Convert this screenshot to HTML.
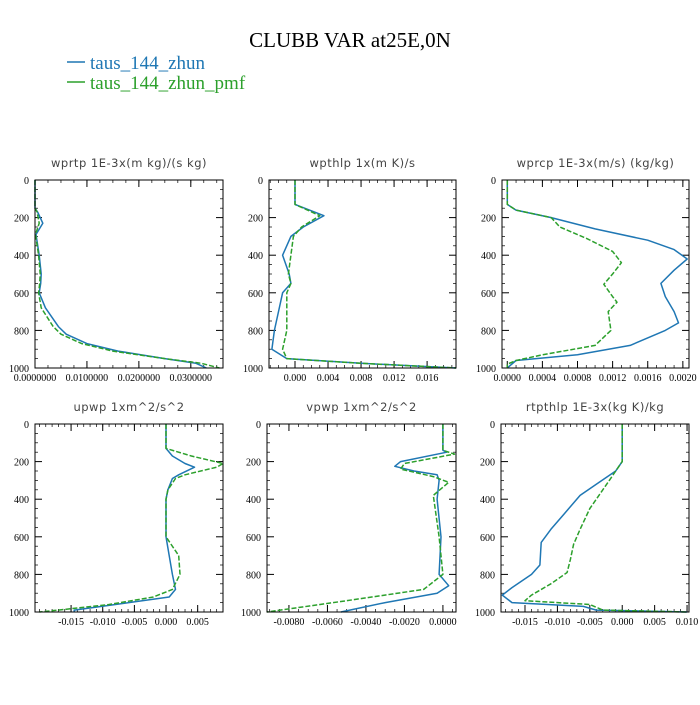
<!DOCTYPE html>
<html><head><meta charset="utf-8"><style>
body{margin:0;background:#fff;width:700px;height:700px;overflow:hidden}
svg text{font-family:"Liberation Serif",serif}
</style></head><body>
<svg id="c" width="700" height="700" xmlns="http://www.w3.org/2000/svg">
<text x="350" y="47" text-anchor="middle" font-size="21">CLUBB VAR at25E,0N</text>
<g>
<line x1="67" y1="62" x2="85" y2="62" stroke="#1f77b4" stroke-width="1.5"/>
<text x="90" y="69" font-size="19" fill="#1f77b4">taus_144_zhun</text>
<line x1="67" y1="82" x2="85" y2="82" stroke="#2ca02c" stroke-width="1.5"/>
<text x="90" y="89" font-size="19" fill="#2ca02c">taus_144_zhun_pmf</text>
</g>
</svg>
<script>
// pressure levels and series values per panel
const p1Lev=[0,150,170,230,290,400,500,550,600,680,780,820,870,910,950,975,1000];
const p1Blue=[0,0,0.0005,0.0015,0.0002,0.0008,0.0012,0.0011,0.0008,0.002,0.0045,0.006,0.01,0.016,0.025,0.031,0.033];
const p1Green=[0,0,0.0004,0.0008,0.0001,0.0007,0.0010,0.0009,0.0007,0.0012,0.0035,0.005,0.009,0.015,0.025,0.032,0.0355];
const p2Lev=[0,130,190,250,300,400,500,550,600,700,800,900,950,975,1000];
const p2Blue=[0,0,0.0035,0.001,-0.0005,-0.0015,-0.0007,-0.0005,-0.0015,-0.002,-0.0025,-0.0028,-0.001,0.008,0.0195];
const p2Green=[0,0,0.003,0.0008,-0.0002,-0.0005,-0.0008,-0.0005,-0.001,-0.001,-0.001,-0.0015,-0.001,0.008,0.0195];
const p3Lev=[0,130,160,200,260,320,370,420,480,550,620,700,760,800,880,930,960,1000];
const p3Blue=[0,0,0.0001,0.0005,0.001,0.0016,0.0019,0.00205,0.0019,0.00175,0.0018,0.0019,0.00195,0.0018,0.0014,0.0008,0.0001,0];
const p3Lev2=[0,130,160,200,250,310,380,440,500,555,620,650,700,800,880,930,960,980,1000];
const p3Green=[0,0,0.0001,0.0005,0.0006,0.0009,0.0012,0.0013,0.0012,0.0011,0.0012,0.00125,0.00115,0.00118,0.001,0.0004,0.0001,0,0];
const p4Lev=[0,130,170,210,230,270,290,350,400,600,700,800,880,920,960,990,1000];
const p4Blue=[0,0,0.001,0.003,0.0045,0.002,0.001,0.0003,0,0,0.0005,0.001,0.0015,0.0005,-0.008,-0.0145,-0.0145];
const p4Green=[0,0,0.004,0.009,0.008,0.003,0.0015,0.0003,0,0,0.002,0.0022,0.001,-0.002,-0.009,-0.017,-0.02];
const p5Lev=[0,140,150,200,225,250,270,300,400,600,800,860,900,950,1000];
const p5Blue=[0,0,0.0002,-0.0022,-0.0025,-0.0015,-0.0003,-0.0002,-0.0003,-0.0001,-0.0002,0.0003,-0.0003,-0.003,-0.0053];
const p5Lev2=[0,140,160,210,240,280,310,380,600,800,880,940,1000];
const p5Green=[0,0,0.0006,-0.002,-0.0022,-0.0005,0.0003,-0.0005,-0.0002,0,-0.001,-0.005,-0.0092];
const p6Lev=[0,200,250,320,380,480,560,630,750,800,870,910,950,970,990,1000];
const p6Blue=[0,0,-0.001,-0.004,-0.0065,-0.009,-0.011,-0.0125,-0.0127,-0.014,-0.017,-0.0185,-0.017,-0.006,-0.004,0.01];
const p6Lev2=[0,200,300,450,560,640,720,790,850,910,940,960,990,1000];
const p6Green=[0,0,-0.002,-0.005,-0.0065,-0.0075,-0.008,-0.0085,-0.011,-0.014,-0.015,-0.005,-0.003,0.01];
const yTicks=[0,200,400,600,800,1000];

const svg=document.getElementById('c');
const NS='http://www.w3.org/2000/svg';
function mk(tag,attrs,parent){const e=document.createElementNS(NS,tag);for(const k in attrs)e.setAttribute(k,attrs[k]);parent.appendChild(e);return e;}

const panels=[
 {id:'wprtp',title:'wprtp  1E-3x(m kg)/(s kg)',L:35,R:223,T:180,B:368,xmin:0,xmax:0.0362,ticks:[0,0.01,0.02,0.03],lab:['0.0000000','0.0100000','0.0200000','0.0300000'],minor:0.0025,s:[[p1Lev,p1Blue],[p1Lev,p1Green]]},
 {id:'wpthlp',title:'wpthlp  1x(m K)/s',L:269,R:456,T:180,B:368,xmin:-0.00315,xmax:0.0195,ticks:[0,0.004,0.008,0.012,0.016],lab:['0.000','0.004','0.008','0.012','0.016'],minor:0.001,s:[[p2Lev,p2Blue],[p2Lev,p2Green]]},
 {id:'wprcp',title:'wprcp  1E-3x(m/s) (kg/kg)',L:502,R:689,T:180,B:368,xmin:-0.00006,xmax:0.00207,ticks:[0,0.0004,0.0008,0.0012,0.0016,0.002],lab:['0.0000','0.0004','0.0008','0.0012','0.0016','0.0020'],minor:0.0001,s:[[p3Lev,p3Blue],[p3Lev2,p3Green]]},
 {id:'upwp',title:'upwp  1xm^2/s^2',L:35,R:223,T:424,B:612,xmin:-0.0207,xmax:0.009,ticks:[-0.015,-0.01,-0.005,0,0.005],lab:['-0.015','-0.010','-0.005','0.000','0.005'],minor:0.001,s:[[p4Lev,p4Blue],[p4Lev,p4Green]]},
 {id:'vpwp',title:'vpwp  1xm^2/s^2',L:267,R:456,T:424,B:612,xmin:-0.00914,xmax:0.00068,ticks:[-0.008,-0.006,-0.004,-0.002,0],lab:['-0.0080','-0.0060','-0.0040','-0.0020','0.0000'],minor:0.0005,s:[[p5Lev,p5Blue],[p5Lev2,p5Green]]},
 {id:'rtpthlp',title:'rtpthlp  1E-3x(kg K)/kg',L:501,R:689,T:424,B:612,xmin:-0.0187,xmax:0.0103,ticks:[-0.015,-0.01,-0.005,0,0.005,0.01],lab:['-0.015','-0.010','-0.005','0.000','0.005','0.010'],minor:0.001,s:[[p6Lev,p6Blue],[p6Lev2,p6Green]]}
];
const colors=['#1f77b4','#2ca02c'];
panels.forEach(p=>{
 const g=mk('g',{},svg);
 
 
 const xs=v=>p.L+(v-p.xmin)/(p.xmax-p.xmin)*(p.R-p.L);
 const ys=v=>p.T+v/1000*(p.B-p.T);
 const t=mk('text',{x:(p.L+p.R)/2,y:p.T-13,'text-anchor':'middle','font-size':'11.5',fill:'#444','font-family':'DejaVu Sans, sans-serif','letter-spacing':'0.5'},g);
 t.style.fontFamily='"DejaVu Sans",sans-serif';
 t.textContent=p.title;
 
 
 // minor ticks x
 const start=Math.ceil(p.xmin/p.minor);
 for(let i=start;i*p.minor<=p.xmax;i++){const x=xs(i*p.minor);
  mk('line',{x1:x,x2:x,y1:p.B,y2:p.B-3,stroke:'#000','stroke-width':0.7},g);
  mk('line',{x1:x,x2:x,y1:p.T,y2:p.T+3,stroke:'#000','stroke-width':0.7},g);}
 p.ticks.forEach((v,i)=>{const x=xs(v);
  mk('line',{x1:x,x2:x,y1:p.B,y2:p.B-7,stroke:'#000','stroke-width':1},g);
  mk('line',{x1:x,x2:x,y1:p.T,y2:p.T+7,stroke:'#000','stroke-width':1},g);
  const l=mk('text',{x:x,y:p.B+13,'text-anchor':'middle','font-size':'10'},g);l.textContent=p.lab[i];
  
  });
 for(let v=0;v<=1000;v+=50){const y=ys(v);const big=v%200===0;
  mk('line',{x1:p.L,x2:p.L+(big?7:3),y1:y,y2:y,stroke:'#000','stroke-width':big?1:0.7},g);
  mk('line',{x1:p.R,x2:p.R-(big?7:3),y1:y,y2:y,stroke:'#000','stroke-width':big?1:0.7},g);}
 yTicks.forEach(v=>{const l=mk('text',{x:p.L-6,y:ys(v)+4,'text-anchor':'end','font-size':'10'},g);l.textContent=v;
  
  });
 p.s.forEach((s,si)=>{const [lev,val]=s;
  const d=val.map((v,i)=>(i?'L':'M')+xs(Math.max(p.xmin,Math.min(p.xmax,v))).toFixed(1)+','+ys(lev[i]).toFixed(1)).join(' ');
  const path=mk('path',{d:d,fill:'none',stroke:colors[si],'stroke-width':1.5,'stroke-linejoin':'round'},g);
  if(si===1)path.setAttribute('stroke-dasharray','5,2');
  
  });
 const box=mk('rect',{x:p.L,y:p.T,width:p.R-p.L,height:p.B-p.T,fill:'none',stroke:'#000','stroke-width':1},g);
 
 
});
</script>
</body></html>
